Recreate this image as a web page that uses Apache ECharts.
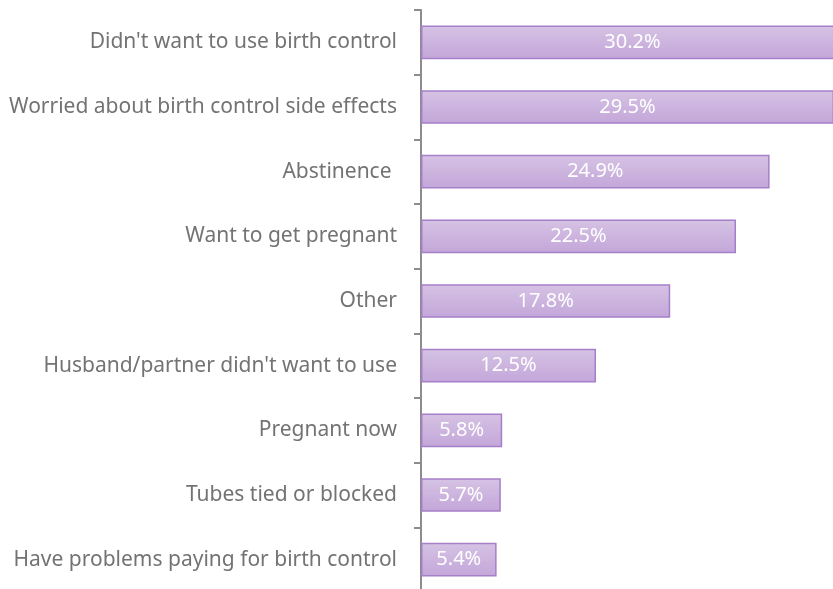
<!DOCTYPE html>
<html><head><meta charset="utf-8">
<script src="https://cdn.jsdelivr.net/npm/echarts@6/dist/echarts.min.js"></script>
<style>html,body{margin:0;padding:0;background:#fff}#c{width:833px;height:589px}</style>
</head><body><div id="c"></div>
<script>
const categories = ["Didn't want to use birth control","Worried about birth control side effects","Abstinence ","Want to get pregnant","Other","Husband/partner didn't want to use","Pregnant now","Tubes tied or blocked","Have problems paying for birth control"];
const values = [30.2,29.5,24.9,22.5,17.8,12.5,5.8,5.7,5.4];
const chart = echarts.init(document.getElementById('c'));
chart.setOption({
  animation:false,
  grid:{left:421,top:10,bottom:-3,width:490,containLabel:false,outerBoundsMode:'none'},
  xAxis:{type:'value',min:0,max:35,show:false},
  yAxis:{type:'category',data:categories,inverse:true,
    axisLine:{lineStyle:{color:'#8c8c8c',width:2}},
    axisTick:{show:true,length:7,lineStyle:{color:'#8c8c8c',width:2}},
    axisLabel:{color:'#737373',fontSize:21,fontFamily:'Noto Sans',margin:24}},
  series:[{type:'bar',data:values,barWidth:'52%',
    itemStyle:{color:new echarts.graphic.LinearGradient(0,0,0,1,[{offset:0,color:'#d6c3e4'},{offset:1,color:'#c3a6d9'}]),borderColor:'#a67fc9',borderWidth:1.5},
    label:{show:true,position:'inside',color:'#fff',fontSize:20,fontFamily:'Noto Sans',formatter:p=>p.value.toFixed(1)+'%'}}]
});
</script></body></html>
